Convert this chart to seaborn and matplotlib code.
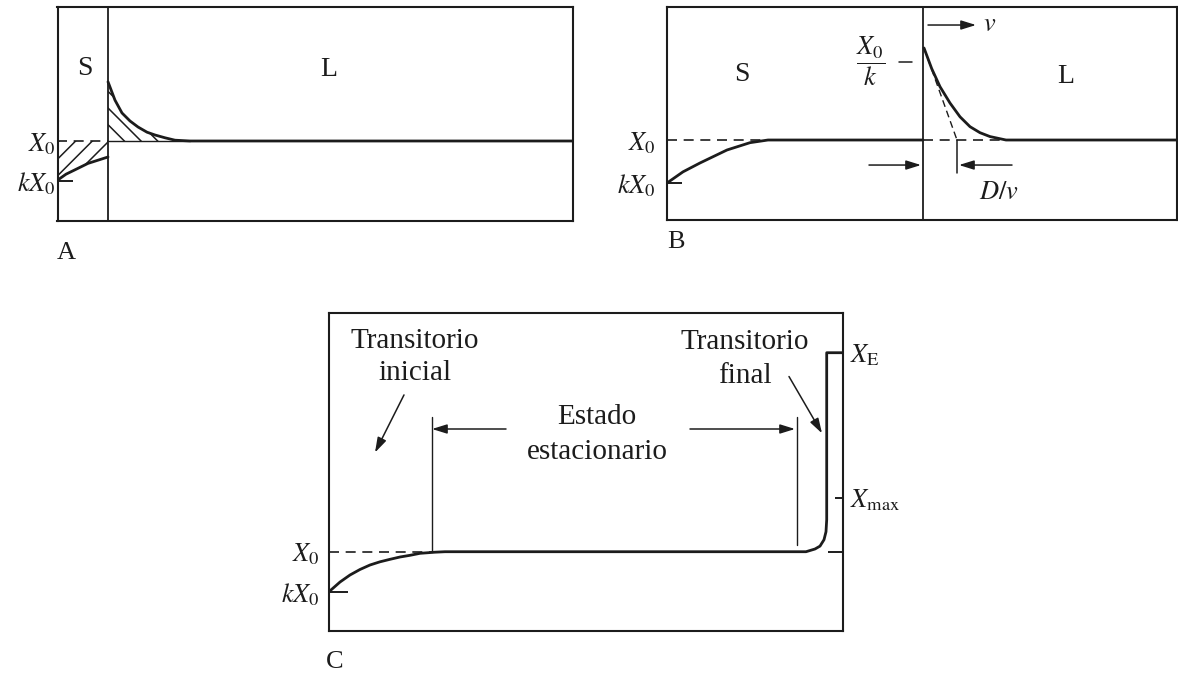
import matplotlib
matplotlib.use("Agg")
import matplotlib.pyplot as plt
import seaborn as sns

# ---------------------------------------------------------------
# Solute concentration profiles during directional solidification
# Distance: arbitrary units measured from the S/L interface
# Concentration: in units of X0 (k = 0.5)
# ---------------------------------------------------------------

# Panel A: initial stage, solid (S) and liquid (L) profiles
a_solid_dist = [-5.05, -4.2, -3.3, -2.0, -1.0, 0.0]
a_solid_conc = [0.51, 0.585, 0.64, 0.72, 0.76, 0.80]
a_liquid_dist = [0.0, 0.7, 1.4, 2.2, 3.0, 3.9, 4.7, 5.7, 6.7, 8.2, 46.5]
a_liquid_conc = [1.74, 1.51, 1.35, 1.25, 1.175, 1.11, 1.075, 1.04, 1.01, 1.0, 1.0]

# Panel B: steady state with the diffusion boundary layer D/v
b_solid_dist = [-25.6, -24.0, -22.3, -19.6, -17.3, -15.5, 0.0]
b_solid_conc = [0.50, 0.63, 0.733, 0.884, 0.969, 1.0, 1.0]
b_liquid_dist = [0.1, 0.87, 1.7, 2.7, 3.7, 4.7, 5.7, 6.7, 8.3, 25.4]
b_liquid_conc = [2.07, 1.83, 1.62, 1.43, 1.27, 1.155, 1.085, 1.04, 1.0, 1.0]
b_boundary_layer = 3.4          # D/v
b_peak = 1.907                  # X0/k

# Panel C: concentration along the solidified bar
c_dist = [0.0, 1.1, 2.1, 3.1, 4.1, 5.1, 6.1, 7.1, 8.1, 9.1, 10.6, 11.6,
          47.7, 48.6, 49.1, 49.5, 49.7, 49.77, 49.77, 51.45]
c_conc = [0.50, 0.621, 0.709, 0.778, 0.834, 0.874, 0.905, 0.934, 0.955,
          0.98, 0.994, 1.0, 1.0, 1.034, 1.07, 1.15, 1.25, 1.4, 3.4875, 3.4875]
c_steady_start = 10.3
c_steady_end = 46.8
c_x_max = 1.675
c_x_e = 3.4875

K_X0 = 0.5
X0 = 1.0

ink = "#1c1c1c"

sns.set_theme(style="white")
plt.rcParams["font.family"] = ["Liberation Serif", "DejaVu Serif"]
plt.rcParams["mathtext.fontset"] = "stix"
plt.rcParams["hatch.linewidth"] = 1.1
plt.rcParams["hatch.color"] = ink
plt.rcParams["text.color"] = ink

fig = plt.figure(figsize=(11.78, 6.75), dpi=100)
W, H = 1178.0, 675.0


def frame(ax):
    for s in ax.spines.values():
        s.set_visible(True)
        s.set_color(ink)
        s.set_linewidth(1.5)
    ax.set_xticks([])
    ax.set_facecolor("white")


def arrow(ax, tail, tip, lw=1.1):
    ax.annotate("", xy=tip, xytext=tail,
                arrowprops=dict(arrowstyle="-|>,head_length=0.9,head_width=0.28",
                                mutation_scale=10, lw=lw, color=ink,
                                shrinkA=0, shrinkB=0))


def left_labels(ax, labels, tick_len, pad):
    # labels on major ticks (no tick mark), the kX0 mark drawn as a minor tick
    ax.yaxis.remove_overlapping_locs = False
    ax.set_yticks([K_X0, X0], labels)
    ax.set_yticks([K_X0], minor=True)
    ax.tick_params(axis="y", which="major", left=True, length=0, pad=pad,
                   labelsize=19, labelcolor=ink)
    ax.tick_params(axis="y", which="minor", left=True, direction="in",
                   length=tick_len, width=1.4, color=ink)


lbl = [r"$kX_0$", r"$X_0$"]

# ---------------- Panel A ----------------
axA = fig.add_axes([57.5 / W, 1 - 221 / H, (572.7 - 57.5) / W, (221 - 7.3) / H])
frame(axA)
axA.set_xlim(-5.05, 46.47)
axA.set_ylim(0, 2.671)
axA.fill_between(a_solid_dist, a_solid_conc, X0, facecolor="none",
                 edgecolor=ink, hatch="//", linewidth=0)
axA.fill_between(a_liquid_dist, X0, a_liquid_conc, facecolor="none",
                 edgecolor=ink, hatch="\\\\", linewidth=0)
axA.plot([a_solid_dist[0], 0], [X0, X0], color=ink, lw=1.2, ls=(0, (6, 4)))
axA.plot([0, a_liquid_dist[-2]], [X0, X0], color=ink, lw=1.0)
axA.axvline(0, color=ink, lw=1.3)
sns.lineplot(x=a_solid_dist, y=a_solid_conc, ax=axA, color=ink, lw=2.0,
             estimator=None, sort=False)
sns.lineplot(x=a_liquid_dist, y=a_liquid_conc, ax=axA, color=ink, lw=2.0,
             estimator=None, sort=False)
axA.text(-2.34, 1.909, "S", fontsize=20, ha="center", va="center")
axA.text(22.1, 1.889, "L", fontsize=20, ha="center", va="center")
left_labels(axA, lbl, 10.8, 1)
fig.text(66 / W, 1 - 253 / H, "A", fontsize=19, ha="center", va="center")

# ---------------- Panel B ----------------
axB = fig.add_axes([667.3 / W, 1 - 220 / H, (1176.5 - 667.3) / W, (220 - 7.3) / H])
frame(axB)
axB.set_xlim(-25.57, 25.35)
axB.set_ylim(0.070, 2.543)
axB.plot([b_solid_dist[0], b_solid_dist[-2]], [X0, X0], color=ink, lw=1.2,
         ls=(0, (6, 4)))
axB.plot([0, b_liquid_dist[-2]], [X0, X0], color=ink, lw=1.2, ls=(0, (6, 4)))
axB.plot([b_liquid_dist[0], b_boundary_layer], [b_liquid_conc[0], X0],
         color=ink, lw=1.0, ls=(0, (5, 3)))
axB.plot([b_boundary_layer, b_boundary_layer], [X0, 0.616], color=ink, lw=1.1)
axB.axvline(0, color=ink, lw=1.3)
sns.lineplot(x=b_solid_dist, y=b_solid_conc, ax=axB, color=ink, lw=2.0,
             estimator=None, sort=False)
sns.lineplot(x=b_liquid_dist, y=b_liquid_conc, ax=axB, color=ink, lw=2.0,
             estimator=None, sort=False)
arrow(axB, (-5.4, 0.709), (-0.2, 0.709))
arrow(axB, (8.9, 0.709), (b_boundary_layer + 0.2, 0.709))
arrow(axB, (0.5, 2.337), (5.3, 2.337))
axB.text(6.0, 2.337, r"$v$", fontsize=19, ha="left", va="center")
axB.text(7.6, 0.384, r"$D/v$", fontsize=19, ha="center", va="center")
axB.text(-5.2, b_peak, r"$\dfrac{X_0}{k}$", fontsize=19, ha="center", va="center")
axB.plot([-2.4, -1.1], [b_peak, b_peak], color=ink, lw=1.1)
axB.text(-18.1, 1.756, "S", fontsize=20, ha="center", va="center")
axB.text(14.3, 1.736, "L", fontsize=20, ha="center", va="center")
left_labels(axB, lbl, 10.8, 8)
fig.text(676 / W, 1 - 242 / H, "B", fontsize=19, ha="center", va="center")

# ---------------- Panel C ----------------
axC = fig.add_axes([329 / W, 1 - 631 / H, (843.3 - 329) / W, (631 - 313) / H])
frame(axC)
axC.set_xlim(0, 51.43)
axC.set_ylim(0.009, 3.984)
axC.plot([0, c_dist[11]], [X0, X0], color=ink, lw=1.2, ls=(0, (6, 4)))
sns.lineplot(x=c_dist, y=c_conc, ax=axC, color=ink, lw=2.0,
             estimator=None, sort=False)
axC.plot([c_steady_start, c_steady_start], [2.69, X0], color=ink, lw=1.0)
axC.plot([c_steady_end, c_steady_end], [2.69, 1.08], color=ink, lw=1.0)
arrow(axC, (17.7, 2.534), (c_steady_start, 2.534))
arrow(axC, (36.1, 2.534), (c_steady_end - 0.2, 2.534))
arrow(axC, (7.5, 2.96), (4.6, 2.24))
arrow(axC, (46.0, 3.19), (49.3, 2.48))
axC.text(26.8, 2.69, "Estado", fontsize=21, ha="center", va="center")
axC.text(26.8, 2.25, "estacionario", fontsize=21, ha="center", va="center")
axC.text(8.6, 3.64, "Transitorio", fontsize=21, ha="center", va="center")
axC.text(8.6, 3.23, "inicial", fontsize=21, ha="center", va="center")
axC.text(41.6, 3.625, "Transitorio", fontsize=21, ha="center", va="center")
axC.text(41.6, 3.196, "final", fontsize=21, ha="center", va="center")
left_labels(axC, lbl, 13.7, 7)
axC.set_xlabel("Distancia", fontsize=21, labelpad=12, color=ink)

axR = axC.twinx()
axR.set_ylim(axC.get_ylim())
for s in axR.spines.values():
    s.set_visible(False)
axR.set_yticks([c_x_max, c_x_e], [r"$X_{\rm max}$", r"$X_{\rm E}$"])
axR.set_yticks([X0], minor=True)
axR.tick_params(axis="y", which="major", right=True, left=False, direction="in",
                length=5.8, width=1.4, color=ink, pad=5, labelsize=19,
                labelcolor=ink)
axR.tick_params(axis="y", which="minor", right=True, left=False, direction="in",
                length=10.8, width=1.4, color=ink)
axR.set_xticks([])
fig.text(335 / W, 1 - 662 / H, "C", fontsize=19, ha="center", va="center")

fig.savefig("out.png", dpi=100, facecolor="white")
